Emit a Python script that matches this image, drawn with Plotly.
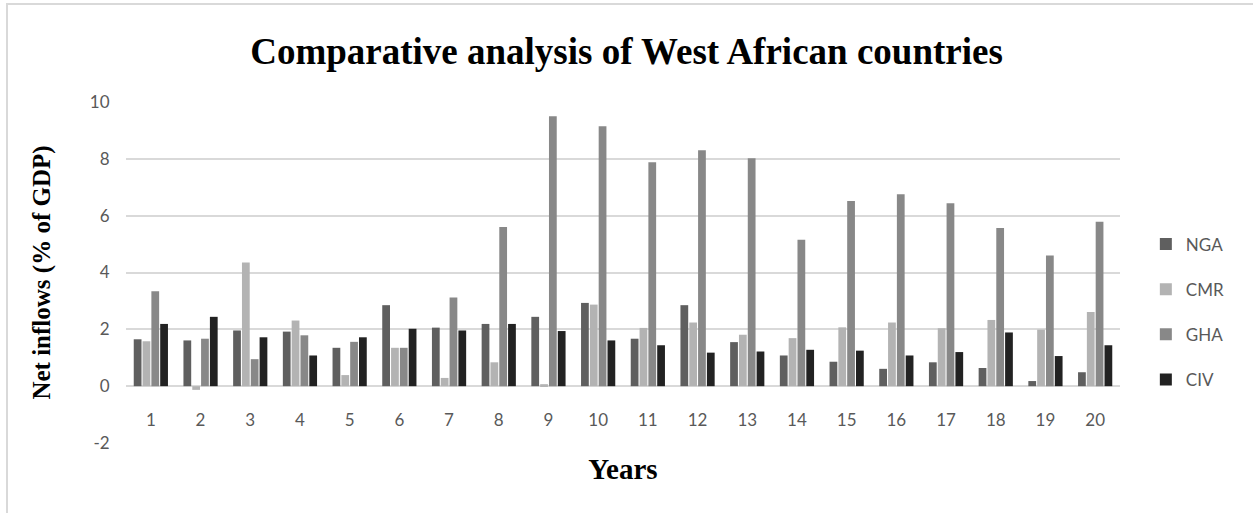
import plotly.graph_objects as go

years = [str(i) for i in range(1, 21)]
nga = [1.65, 1.61, 1.96, 1.92, 1.35, 2.85, 2.06, 2.19, 2.44, 2.93, 1.67, 2.85, 1.55, 1.08, 0.86, 0.61, 0.84, 0.64, 0.18, 0.49]
cmr = [1.58, -0.13, 4.35, 2.31, 0.39, 1.35, 0.29, 0.84, 0.07, 2.87, 2.05, 2.24, 1.81, 1.69, 2.07, 2.24, 2.04, 2.33, 1.99, 2.61]
gha = [3.34, 1.67, 0.95, 1.79, 1.56, 1.35, 3.12, 5.60, 9.50, 9.15, 7.88, 8.30, 8.02, 5.15, 6.52, 6.75, 6.44, 5.57, 4.60, 5.79]
civ = [2.19, 2.44, 1.72, 1.08, 1.72, 2.02, 1.96, 2.19, 1.94, 1.61, 1.44, 1.18, 1.22, 1.28, 1.25, 1.08, 1.20, 1.89, 1.06, 1.44]
y_tickvals = [-2, 0, 2, 4, 6, 8, 10]
y_ticktext = ["-2", "0", "2", "4", "6", "8", "10"]

series = [("NGA", nga, "#5f5f5f"), ("CMR", cmr, "#b3b3b3"), ("GHA", gha, "#888888"), ("CIV", civ, "#222222")]

fig = go.Figure()
for name, vals, col in series:
    fig.add_trace(go.Bar(x=years, y=vals, name=name, marker_color=col,
                         marker_line_width=0, legendgroup=name))

tick_font = dict(family="Lato", size=17, color="#595959")
serif = "Liberation Serif"

fig.update_layout(
    width=1253, height=513,
    margin=dict(l=126, r=133, t=102, b=70),
    paper_bgcolor="white", plot_bgcolor="white",
    barmode="group", bargap=0.29, bargroupgap=0.12,
    title=dict(text="<b>Comparative analysis of West African countries</b>",
               x=0.5, xanchor="center", y=1 - 51 / 513, yanchor="middle",
               font=dict(family=serif, size=37, color="black")),
    xaxis=dict(type="category", anchor="free", position=2/12,
               showgrid=False, showline=False, zeroline=False,
               ticks="outside", ticklen=18, tickcolor="rgba(0,0,0,0)",
               tickfont=tick_font,
               title=dict(text="<b>Years</b>", standoff=30,
                          font=dict(family=serif, size=29, color="black"))),
    yaxis=dict(range=[-2, 10], tickvals=y_tickvals, ticktext=y_ticktext,
               showgrid=True, gridcolor="#d9d9d9", gridwidth=1.5,
               zeroline=True, zerolinecolor="#d9d9d9", zerolinewidth=1.5,
               showline=False, ticks="outside", ticklen=12, tickcolor="rgba(0,0,0,0)",
               tickfont=tick_font,
               title=dict(text="<b>Net inflows (% of GDP)</b>", standoff=32,
                          font=dict(family=serif, size=25, color="black"))),
    legend=dict(x=1.026, xanchor="left", y=0.384, yanchor="middle",
                font=dict(family="Lato", size=17, color="#595959"),
                tracegroupgap=20, traceorder="grouped", bgcolor="rgba(0,0,0,0)"),
    shapes=[dict(type="rect", xref="paper", yref="paper",
                 x0=(7 - 126) / 994, x1=(1270 - 126) / 994,
                 y0=(443 - 530) / 341, y1=(443 - 4) / 341,
                 line=dict(color="#d9d9d9", width=2), fillcolor="rgba(0,0,0,0)", layer="below")],
)

fig.write_html("out.html", config={"displayModeBar": False},
               post_script="document.body.style.margin='0';document.body.style.overflow='hidden';")
